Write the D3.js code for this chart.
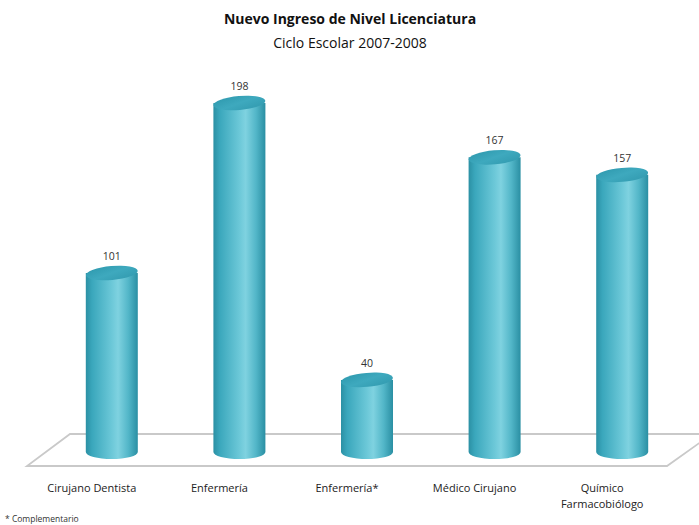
<!DOCTYPE html>
<html>
<head>
<meta charset="utf-8">
<script src="https://cdn.jsdelivr.net/npm/d3@7"></script>
<style>
  body { margin: 0; background: #fff; }
  svg { display: block; font-family: "Open Sans", "Liberation Sans", sans-serif; }
</style>
</head>
<body>
<svg id="chart" width="699" height="525"></svg>
<script>
const categories = ['Cirujano Dentista', 'Enfermería', 'Enfermería*', 'Médico Cirujano', 'Químico Farmacobiólogo'];
const categoryLines = [['Cirujano Dentista'], ['Enfermería'], ['Enfermería*'], ['Médico Cirujano'], ['Químico', 'Farmacobiólogo']];
const values = [101, 198, 40, 167, 157];

const BAR_W = 52;
const RY = 7;
const LABEL_SHIFT = -20; // labels sit under the front edge of the floor

const svg = d3.select('#chart');

const x = d3.scalePoint().domain(categories).range([48, 686]).padding(0.5);
const y = d3.scaleLinear().domain([0, 198]).range([450, 103]);

const defs = svg.append('defs');
const bodyGrad = defs.append('linearGradient').attr('id', 'body').attr('x1', 0).attr('x2', 1).attr('y1', 0).attr('y2', 0);
[[0, '#2b90a4'], [0.12, '#3aa7bc'], [0.5, '#6cc8d8'], [0.62, '#7fd2e0'], [0.82, '#52b6c8'], [1, '#2a8fa3']]
  .forEach(([o, c]) => bodyGrad.append('stop').attr('offset', o).attr('stop-color', c));
const topGrad = defs.append('linearGradient').attr('id', 'topcap').attr('x1', 0).attr('x2', 1).attr('y1', 0).attr('y2', 1);
[[0, '#2d98ad'], [0.5, '#3ea9be'], [1, '#3199ae']]
  .forEach(([o, c]) => topGrad.append('stop').attr('offset', o).attr('stop-color', c));

// floor
const floor = [[27, 466], [667, 466], [712, 434], [70, 434]];
svg.append('path')
  .attr('d', d3.line()(floor) + 'Z')
  .attr('fill', '#fff')
  .attr('stroke', '#c9c9c9')
  .attr('stroke-width', 1.8);

// titles
svg.append('text').attr('x', 350).attr('y', 24).attr('text-anchor', 'middle')
  .attr('font-size', 14).attr('font-weight', 'bold').attr('fill', '#111')
  .text('Nuevo Ingreso de Nivel Licenciatura');
svg.append('text').attr('x', 350).attr('y', 48).attr('text-anchor', 'middle')
  .attr('font-size', 14).attr('fill', '#111')
  .text('Ciclo Escolar 2007-2008');

// cylinders
const bars = svg.append('g').selectAll('g').data(categories).join('g');
const base = y(0) + 2;

bars.append('path')
  .attr('d', (d, i) => {
    const cx = x(d), l = cx - BAR_W / 2, r = cx + BAR_W / 2, t = y(values[i]);
    return `M${l},${t} L${l},${base} A${BAR_W / 2},${RY} 0 0 0 ${r},${base} L${r},${t} Z`;
  })
  .attr('fill', 'url(#body)');

bars.append('ellipse')
  .attr('cx', 0).attr('cy', 0)
  .attr('rx', BAR_W / 2).attr('ry', RY)
  .attr('transform', (d, i) => `translate(${x(d)},${y(values[i])}) rotate(-5)`)
  .attr('fill', 'url(#topcap)');

bars.append('text')
  .attr('x', d => x(d))
  .attr('y', (d, i) => y(values[i]) - 13)
  .attr('text-anchor', 'middle')
  .attr('font-size', 10.5)
  .attr('fill', '#333')
  .text((d, i) => values[i]);

// category labels
bars.append('text')
  .attr('text-anchor', 'middle')
  .attr('font-size', 11)
  .attr('fill', '#222')
  .selectAll('tspan')
  .data((d, i) => categoryLines[i].map(s => ({ s, cx: x(d) + LABEL_SHIFT })))
  .join('tspan')
  .attr('x', t => t.cx)
  .attr('y', (t, j) => 492 + j * 16)
  .text(t => t.s);

svg.append('text').attr('x', 5).attr('y', 522)
  .attr('font-size', 8.5).attr('fill', '#333')
  .text('* Complementario');
</script>
</body>
</html>
